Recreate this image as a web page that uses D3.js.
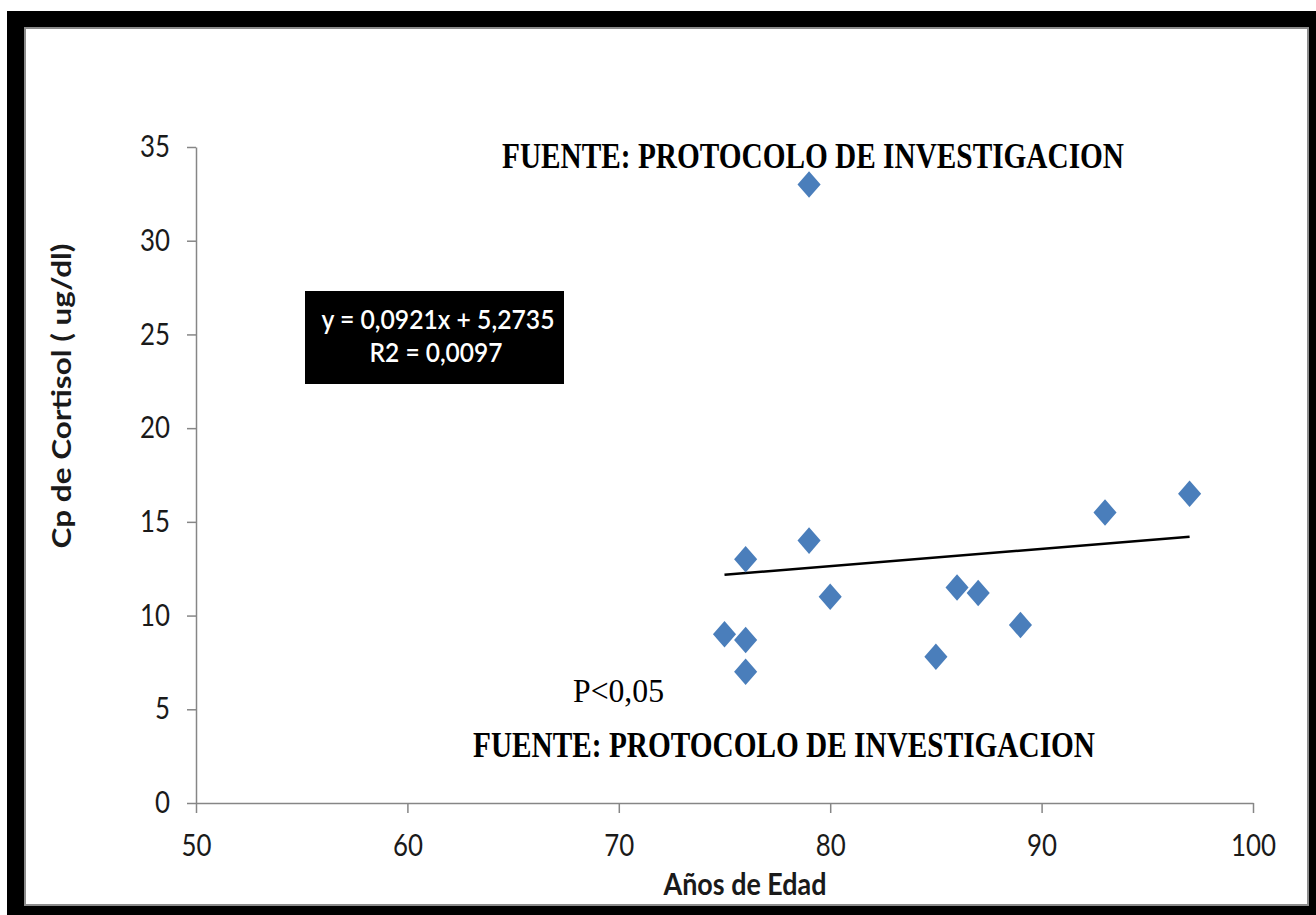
<!DOCTYPE html>
<html>
<head>
<meta charset="utf-8">
<script src="https://cdn.jsdelivr.net/npm/d3@7"></script>
<style>
  body { margin: 0; background: #fff; }
  svg { display: block; }
</style>
</head>
<body>
<div id="chart"></div>
<script>
// data
const ages = [75, 76, 76, 76, 79, 79, 80, 85, 86, 87, 89, 93, 97];
const cortisol = [9.0, 13.0, 8.7, 7.0, 14.0, 33.0, 11.0, 7.8, 11.5, 11.2, 9.5, 15.5, 16.5];
const xTicks = [50, 60, 70, 80, 90, 100];
const yTicks = [0, 5, 10, 15, 20, 25, 30, 35];
// trend line as printed on the chart: y = 0,0921x + 5,2735
const trendCoef = [0.0921, 5.2735];
const trendRange = [75, 97];
const equationLines = ['y = 0,0921x + 5,2735', 'R2 = 0,0097'];

const width = 1316;
const height = 915;

const svg = d3.select('#chart')
  .append('svg')
  .attr('width', width)
  .attr('height', height);

// black frame and the chart area
svg.append('rect')
  .attr('x', 7).attr('y', 11)
  .attr('width', width - 7).attr('height', height - 11)
  .attr('fill', '#000');
svg.append('rect')
  .attr('x', 25).attr('y', 28)
  .attr('width', 1283).attr('height', 877)
  .attr('fill', '#fff')
  .attr('stroke', '#8c8c8c')
  .attr('stroke-width', 2);

const x = d3.scaleLinear().domain([50, 100]).range([196, 1253]);
const y = d3.scaleLinear().domain([0, 35]).range([803, 147]);

const tickFont = 'Lato, "Open Sans", sans-serif';

// axes
const gx = svg.append('g')
  .attr('transform', `translate(0,${y(0)})`)
  .call(d3.axisBottom(x).tickValues(xTicks).tickSize(10).tickPadding(22).tickSizeOuter(0));
const gy = svg.append('g')
  .attr('transform', `translate(${x(50)},0)`)
  .call(d3.axisLeft(y).tickValues(yTicks).tickSize(9).tickPadding(17).tickSizeOuter(0));

for (const g of [gx, gy]) {
  g.select('.domain').attr('stroke', '#868686').attr('stroke-width', 1.5);
  g.selectAll('.tick line').attr('stroke', '#868686').attr('stroke-width', 1.5);
  g.selectAll('.tick text')
    .attr('fill', '#1a1a1a')
    .style('font-family', tickFont)
    .style('font-size', '30px')
    .attr('textLength', (d) => String(d).length * 15)
    .attr('lengthAdjust', 'spacingAndGlyphs');
}

// axis titles
svg.append('text')
  .attr('x', 745).attr('y', 895)
  .attr('text-anchor', 'middle')
  .style('font-family', tickFont)
  .style('font-weight', 'bold')
  .style('font-size', '30px')
  .attr('textLength', 163)
  .attr('lengthAdjust', 'spacingAndGlyphs')
  .attr('fill', '#1a1a1a')
  .text('Años de Edad');

svg.append('text')
  .attr('transform', 'translate(71,396) rotate(-90)')
  .attr('text-anchor', 'middle')
  .style('font-family', tickFont)
  .style('font-weight', 'bold')
  .style('font-size', '26px')
  .attr('textLength', 305)
  .attr('lengthAdjust', 'spacingAndGlyphs')
  .attr('fill', '#1a1a1a')
  .text('Cp de Cortisol ( ug/dl)');

// trend line
const trend = d3.line()
  .x((d) => x(d))
  .y((d) => y(trendCoef[0] * d + trendCoef[1]));
svg.append('path')
  .datum(trendRange)
  .attr('d', trend)
  .attr('fill', 'none')
  .attr('stroke', '#000')
  .attr('stroke-width', 2.5);

// diamond markers
const diamond = d3.symbol().type(d3.symbolDiamond2).size(340);
svg.append('g')
  .selectAll('path')
  .data(ages.map((a, i) => ({ age: a, value: cortisol[i] })))
  .join('path')
  .attr('d', diamond)
  .attr('transform', (d) => `translate(${x(d.age)},${y(d.value)}) scale(1,1.15)`)
  .attr('fill', '#4a7ebb');

// equation box
svg.append('rect')
  .attr('x', 305).attr('y', 291)
  .attr('width', 259).attr('height', 93)
  .attr('fill', '#000');
svg.append('text')
  .attr('x', 438).attr('y', 329)
  .attr('text-anchor', 'middle')
  .attr('fill', '#fff')
  .style('font-family', tickFont)
  .style('font-weight', 600)
  .style('font-size', '27px')
  .attr('textLength', 233)
  .attr('lengthAdjust', 'spacingAndGlyphs')
  .text(equationLines[0]);
svg.append('text')
  .attr('x', 436).attr('y', 362)
  .attr('text-anchor', 'middle')
  .attr('fill', '#fff')
  .style('font-family', tickFont)
  .style('font-weight', 600)
  .style('font-size', '27px')
  .attr('textLength', 133)
  .attr('lengthAdjust', 'spacingAndGlyphs')
  .text(equationLines[1]);

// notes
const serif = '"Liberation Serif", "Times New Roman", serif';
svg.append('text')
  .attr('x', 813).attr('y', 168)
  .attr('text-anchor', 'middle')
  .style('font-family', serif)
  .style('font-weight', 'bold')
  .style('font-size', '36px')
  .attr('textLength', 622)
  .attr('lengthAdjust', 'spacingAndGlyphs')
  .text('FUENTE: PROTOCOLO DE INVESTIGACION');
svg.append('text')
  .attr('x', 784).attr('y', 757)
  .attr('text-anchor', 'middle')
  .style('font-family', serif)
  .style('font-weight', 'bold')
  .style('font-size', '36px')
  .attr('textLength', 622)
  .attr('lengthAdjust', 'spacingAndGlyphs')
  .text('FUENTE: PROTOCOLO DE INVESTIGACION');
svg.append('text')
  .attr('x', 573).attr('y', 702)
  .style('font-family', serif)
  .style('font-size', '33px')
  .attr('textLength', 91)
  .attr('lengthAdjust', 'spacingAndGlyphs')
  .text('P<0,05');
</script>
</body>
</html>
